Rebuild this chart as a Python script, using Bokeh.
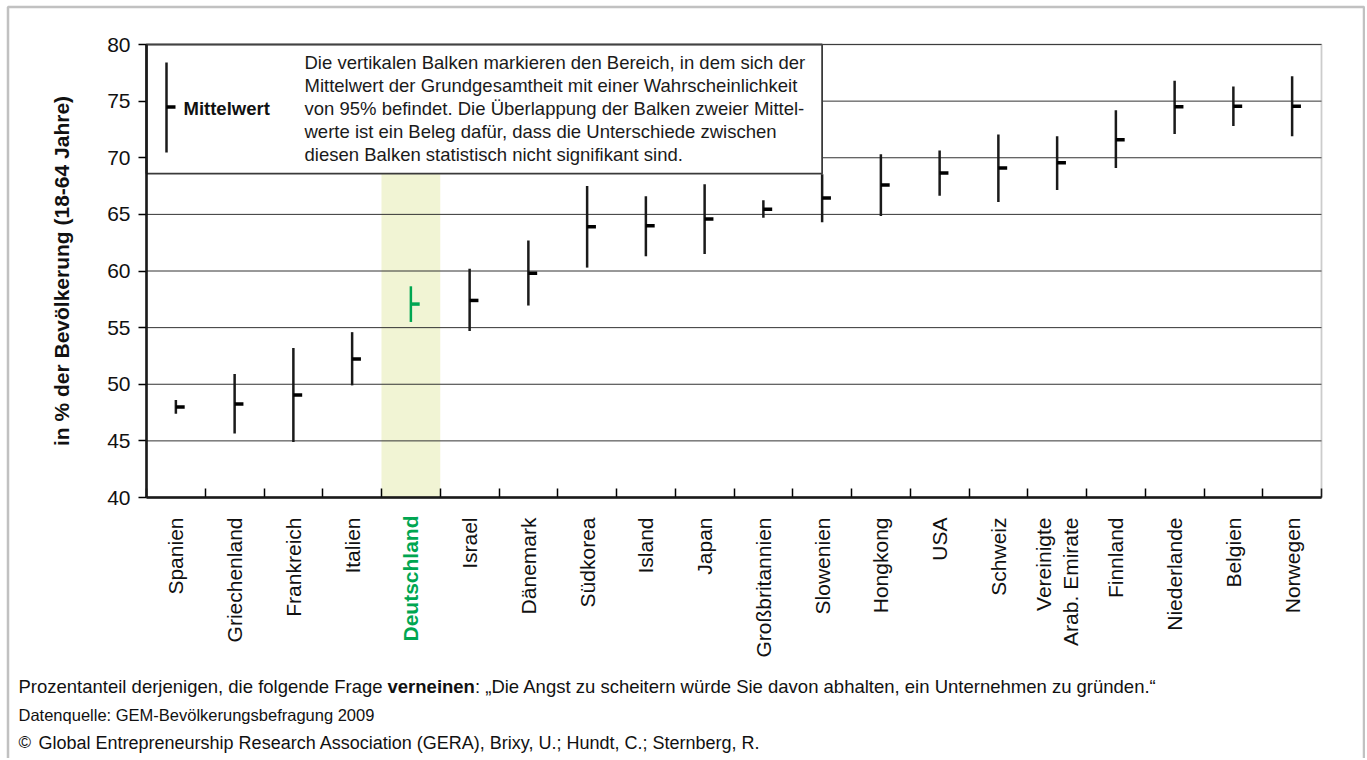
import math
from bokeh.plotting import figure
from bokeh.models import (Range1d, FixedTicker, BoxAnnotation, Label, ColumnDataSource,
                          LinearAxis)
from bokeh.embed import file_html
from bokeh.resources import INLINE

categories = ["Spanien", "Griechenland", "Frankreich", "Italien", "Deutschland", "Israel",
              "Dänemark", "Südkorea", "Island", "Japan", "Großbritannien", "Slowenien",
              "Hongkong", "USA", "Schweiz", "Vereinigte\nArab. Emirate", "Finnland",
              "Niederlande", "Belgien", "Norwegen"]
mean_vals = [48.0, 48.25, 49.05, 52.23, 57.08, 57.4, 59.8, 63.9, 64.0, 64.6, 65.45, 66.45,
             67.6, 68.65, 69.1, 69.55, 71.6, 74.5, 74.55, 74.55]
lower_vals = [47.4, 45.65, 44.9, 49.9, 55.5, 54.7, 56.95, 60.3, 61.3, 61.5, 64.7, 64.3,
              64.85, 66.65, 66.1, 67.15, 69.1, 72.1, 72.8, 71.9]
upper_vals = [48.6, 50.9, 53.2, 54.6, 58.65, 60.2, 62.7, 67.5, 66.6, 67.65, 66.25, 68.55,
              70.3, 70.65, 72.05, 71.9, 74.2, 76.8, 76.3, 77.2]
y_ticks = [40, 45, 50, 55, 60, 65, 70, 75, 80]
highlight = "Deutschland"

FONT = "Liberation Sans"
GREEN = "#00A651"

# page geometry of the plotting area (pixels)
W, H = 1365, 758
PX_LEFT, PX_RIGHT, PX_TOP, PX_BOTTOM = 146, 1321, 44, 497
n = len(categories)
YMIN, YMAX = y_ticks[0], y_ticks[-1]
sx = (PX_RIGHT - PX_LEFT) / n
sy = (PX_BOTTOM - PX_TOP) / (YMAX - YMIN)
BOX_BOTTOM = 68.6   # lower edge of the explanation box (data units)
BOX_RIGHT = 11      # box ends at the Slowenien position


def fx(px):
    return (px - PX_LEFT) / sx - 0.5


def fy(py):
    return YMAX - (py - PX_TOP) / sy


xs = list(range(n))
colors = [GREEN if c == highlight else "#1a1a1a" for c in categories]
mean_colors = [GREEN if c == highlight else "black" for c in categories]

src = ColumnDataSource(dict(x=xs, x1=[x + 0.15 for x in xs], lo=lower_vals, hi=upper_vals,
                            m=mean_vals, c=colors, mc=mean_colors))

p = figure(frame_width=W, frame_height=H, min_border=0,
           x_range=Range1d(fx(0), fx(W)), y_range=Range1d(fy(H), fy(0)),
           x_axis_location=None, y_axis_location=None,
           output_backend="svg", toolbar_location=None, background_fill_color="white",
           border_fill_color="white")
p.outline_line_color = None
p.xgrid.visible = False
p.ygrid.visible = False

# highlight band for Deutschland
hi_idx = categories.index(highlight)
p.quad(left=[hi_idx - 0.5], right=[hi_idx + 0.5], bottom=[YMIN], top=[BOX_BOTTOM],
       fill_color="#F1F4D4", line_color=None)

# horizontal grid lines (bounded to the plot area)
p.segment(x0=[-0.5] * len(y_ticks), x1=[n - 0.5] * len(y_ticks), y0=y_ticks, y1=y_ticks,
          line_color="#333333", line_width=1)

# explanation box (white, covering the grid)
p.quad(left=[-0.5], right=[BOX_RIGHT], bottom=[BOX_BOTTOM], top=[YMAX], fill_color="white",
       line_color="#3a3a3a", line_width=1.8)

# bars
p.segment(x0="x", x1="x", y0="lo", y1="hi", line_color="c", line_width=2.5, source=src)
p.segment(x0="x", x1="x1", y0="m", y1="m", line_color="mc", line_width=3.5, source=src)

# legend sample
p.segment(x0=[fx(166)], x1=[fx(166)], y0=[fy(152)], y1=[fy(62)], line_color="#1a1a1a",
          line_width=2.5)
p.segment(x0=[fx(166)], x1=[fx(175)], y0=[fy(106.5)], y1=[fy(106.5)], line_color="black",
          line_width=3.5)
p.add_layout(Label(x=fx(183), y=fy(107.5), text="Mittelwert", text_font=FONT,
                   text_font_size="18.5px", text_font_style="bold", text_baseline="middle",
                   text_color="#111111"))

box_lines = ["Die vertikalen Balken markieren den Bereich, in dem sich der",
             "Mittelwert der Grundgesamtheit mit einer Wahrscheinlichkeit",
             "von 95% befindet. Die Überlappung der Balken zweier Mittel-",
             "werte ist ein Beleg dafür, dass die Unterschiede zwischen",
             "diesen Balken statistisch nicht signifikant sind."]
for i, t in enumerate(box_lines):
    p.add_layout(Label(x=fx(304), y=fy(62 + 23 * i), text=t, text_font=FONT,
                       text_font_size="18.5px", text_baseline="middle", text_color="#1a1a1a"))

# plot frame (top / right edges)
p.add_layout(BoxAnnotation(left=-0.5, right=n - 0.5, bottom=YMIN, top=YMAX, fill_alpha=0,
                           line_color="#555555", line_width=1.8, level="overlay"))

# outer border of the whole figure
p.add_layout(BoxAnnotation(left=fx(7.5), right=fx(1363.5), bottom=fy(H + 50), top=fy(6.5),
                           fill_alpha=0, line_color="#333333", line_width=2.5, level="overlay"))

# x axis (categories)
xa = LinearAxis(fixed_location=YMIN, bounds=(-0.5, n - 0.5))
xa.ticker = FixedTicker(ticks=xs, minor_ticks=[x - 0.5 for x in xs] + [n - 0.5])
xa.major_label_overrides = {i: ("" if c == highlight else c) for i, c in enumerate(categories)}
xa.major_label_orientation = math.pi / 2
xa.major_tick_line_color = None
xa.minor_tick_line_color = "black"
xa.minor_tick_line_width = 1.5
xa.minor_tick_in = 9
xa.minor_tick_out = 0
xa.axis_line_color = "black"
xa.axis_line_width = 2.5
xa.major_label_standoff = 14
xa.major_label_text_font = FONT
xa.major_label_text_font_size = "21px"
xa.major_label_text_color = "#111111"
p.add_layout(xa, "below")

# y axis
ya = LinearAxis(fixed_location=-0.5, bounds=(YMIN, YMAX))
ya.ticker = FixedTicker(ticks=y_ticks)
ya.minor_tick_line_color = None
ya.major_tick_in = 0
ya.major_tick_out = 8
ya.major_tick_line_color = "black"
ya.major_tick_line_width = 1.5
ya.axis_line_color = "black"
ya.axis_line_width = 2.5
ya.major_label_standoff = 8
ya.major_label_text_font = FONT
ya.major_label_text_font_size = "21px"
ya.major_label_text_color = "#111111"
ya.axis_label = "in % der Bevölkerung (18-64 Jahre)"
ya.axis_label_text_font = FONT
ya.axis_label_text_font_size = "21px"
ya.axis_label_text_font_style = "bold"
ya.axis_label_text_color = "#111111"
ya.axis_label_standoff = 31
p.add_layout(ya, "left")

# Deutschland label (green, bold)
p.add_layout(Label(x=hi_idx, y=fy(515), text=highlight, angle=math.pi / 2,
                   text_align="right", text_baseline="middle", text_font=FONT,
                   text_font_size="21px", text_font_style="bold", text_color=GREEN))

# footnotes
s1 = 18.5
seg1 = "Prozentanteil derjenigen, die folgende Frage"
seg2 = "verneinen"
seg3 = ": „Die Angst zu scheitern würde Sie davon abhalten, ein Unternehmen zu gründen.“"
x2 = 18 + (295 + 4.2) * s1 / 15
x3 = x2 + 70.9 * s1 / 15
foot = dict(text_font=FONT, text_baseline="middle", text_color="#111111")
p.add_layout(Label(x=fx(18), y=fy(686), text=seg1, text_font_size=f"{s1}px", **foot))
p.add_layout(Label(x=fx(x2), y=fy(686), text=seg2, text_font_style="bold",
                   text_font_size=f"{s1}px", **foot))
p.add_layout(Label(x=fx(x3), y=fy(686), text=seg3, text_font_size=f"{s1}px", **foot))
p.add_layout(Label(x=fx(18), y=fy(714), text="Datenquelle: GEM-Bevölkerungsbefragung 2009",
                   text_font_size="16.5px", **foot))
p.add_layout(Label(x=fx(18), y=fy(742), text="©", text_font_size="17px", **foot))
p.add_layout(Label(x=fx(38), y=fy(742),
                   text="Global Entrepreneurship Research Association (GERA), Brixy, U.; Hundt, C.; Sternberg, R.",
                   text_font_size="18px", **foot))

open("out.html", "w").write(file_html(p, INLINE))
